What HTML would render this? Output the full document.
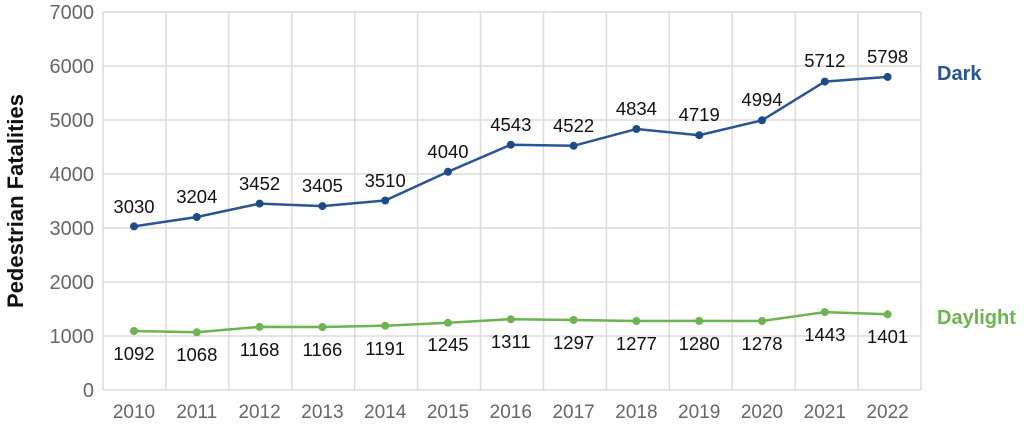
<!DOCTYPE html>
<html><head><meta charset="utf-8"><style>html,body{margin:0;padding:0;background:#fff}svg{display:block}</style></head>
<body>
<svg width="1024" height="424" viewBox="0 0 1024 424" xmlns="http://www.w3.org/2000/svg" font-family="Liberation Sans, DejaVu Sans, sans-serif">
<g stroke="#dcdcdc" stroke-width="1.5" fill="none">
<line x1="103" y1="12" x2="921" y2="12"/><line x1="103" y1="66" x2="921" y2="66"/><line x1="103" y1="120" x2="921" y2="120"/><line x1="103" y1="174" x2="921" y2="174"/><line x1="103" y1="228" x2="921" y2="228"/><line x1="103" y1="282" x2="921" y2="282"/><line x1="103" y1="336" x2="921" y2="336"/><line x1="103" y1="390" x2="921" y2="390"/>
<line x1="103" y1="12" x2="103" y2="390"/><line x1="165.9" y1="12" x2="165.9" y2="390"/><line x1="228.8" y1="12" x2="228.8" y2="390"/><line x1="291.8" y1="12" x2="291.8" y2="390"/><line x1="354.7" y1="12" x2="354.7" y2="390"/><line x1="417.6" y1="12" x2="417.6" y2="390"/><line x1="480.5" y1="12" x2="480.5" y2="390"/><line x1="543.5" y1="12" x2="543.5" y2="390"/><line x1="606.4" y1="12" x2="606.4" y2="390"/><line x1="669.3" y1="12" x2="669.3" y2="390"/><line x1="732.2" y1="12" x2="732.2" y2="390"/><line x1="795.2" y1="12" x2="795.2" y2="390"/><line x1="858.1" y1="12" x2="858.1" y2="390"/><line x1="921" y1="12" x2="921" y2="390"/>
</g>
<g fill="#666" font-size="20" text-anchor="end">
<text x="94" y="19">7000</text><text x="94" y="73">6000</text><text x="94" y="127">5000</text><text x="94" y="181">4000</text><text x="94" y="235">3000</text><text x="94" y="289">2000</text><text x="94" y="343">1000</text><text x="94" y="397">0</text>
</g>
<g fill="#666" font-size="19" text-anchor="middle">
<text x="134" y="418">2010</text><text x="196.8" y="418">2011</text><text x="259.6" y="418">2012</text><text x="322.4" y="418">2013</text><text x="385.2" y="418">2014</text><text x="448" y="418">2015</text><text x="510.8" y="418">2016</text><text x="573.6" y="418">2017</text><text x="636.4" y="418">2018</text><text x="699.2" y="418">2019</text><text x="762" y="418">2020</text><text x="824.8" y="418">2021</text><text x="887.6" y="418">2022</text>
</g>
<text transform="translate(23,201) rotate(-90)" text-anchor="middle" font-size="22" font-weight="bold" fill="#111">Pedestrian Fatalities</text>
<polyline fill="none" stroke="#2a5595" stroke-width="2.5" points="134,226.4 196.8,217 259.6,203.6 322.4,206.1 385.2,200.5 448,171.8 510.8,144.7 573.6,145.8 636.4,129 699.2,135.2 762,120.3 824.8,81.6 887.6,76.9"/>
<g fill="#1f4a8a"><circle cx="134" cy="226.4" r="4"/><circle cx="196.8" cy="217" r="4"/><circle cx="259.6" cy="203.6" r="4"/><circle cx="322.4" cy="206.1" r="4"/><circle cx="385.2" cy="200.5" r="4"/><circle cx="448" cy="171.8" r="4"/><circle cx="510.8" cy="144.7" r="4"/><circle cx="573.6" cy="145.8" r="4"/><circle cx="636.4" cy="129" r="4"/><circle cx="699.2" cy="135.2" r="4"/><circle cx="762" cy="120.3" r="4"/><circle cx="824.8" cy="81.6" r="4"/><circle cx="887.6" cy="76.9" r="4"/></g>
<polyline fill="none" stroke="#6db34f" stroke-width="2.5" points="134,331 196.8,332.3 259.6,326.9 322.4,327 385.2,325.7 448,322.8 510.8,319.2 573.6,320 636.4,321 699.2,320.9 762,321 824.8,312.1 887.6,314.3"/>
<g fill="#6db34f"><circle cx="134" cy="331" r="4"/><circle cx="196.8" cy="332.3" r="4"/><circle cx="259.6" cy="326.9" r="4"/><circle cx="322.4" cy="327" r="4"/><circle cx="385.2" cy="325.7" r="4"/><circle cx="448" cy="322.8" r="4"/><circle cx="510.8" cy="319.2" r="4"/><circle cx="573.6" cy="320" r="4"/><circle cx="636.4" cy="321" r="4"/><circle cx="699.2" cy="320.9" r="4"/><circle cx="762" cy="321" r="4"/><circle cx="824.8" cy="312.1" r="4"/><circle cx="887.6" cy="314.3" r="4"/></g>
<g fill="#111" font-size="18.5" text-anchor="middle">
<text x="134" y="213">3030</text><text x="196.8" y="203">3204</text><text x="259.6" y="190">3452</text><text x="322.4" y="192">3405</text><text x="385.2" y="187">3510</text><text x="448" y="158">4040</text><text x="510.8" y="131">4543</text><text x="573.6" y="132">4522</text><text x="636.4" y="115">4834</text><text x="699.2" y="121">4719</text><text x="762" y="106">4994</text><text x="824.8" y="67">5712</text><text x="887.6" y="63">5798</text>
<text x="134" y="360">1092</text><text x="196.8" y="361">1068</text><text x="259.6" y="356">1168</text><text x="322.4" y="356">1166</text><text x="385.2" y="355">1191</text><text x="448" y="351">1245</text><text x="510.8" y="348">1311</text><text x="573.6" y="349">1297</text><text x="636.4" y="350">1277</text><text x="699.2" y="350">1280</text><text x="762" y="350">1278</text><text x="824.8" y="341">1443</text><text x="887.6" y="343">1401</text>
</g>
<text x="937" y="80" font-size="20" font-weight="bold" fill="#2a5595">Dark</text>
<text x="937" y="324" font-size="20" font-weight="bold" fill="#6db34f">Daylight</text>
</svg>
</body></html>
